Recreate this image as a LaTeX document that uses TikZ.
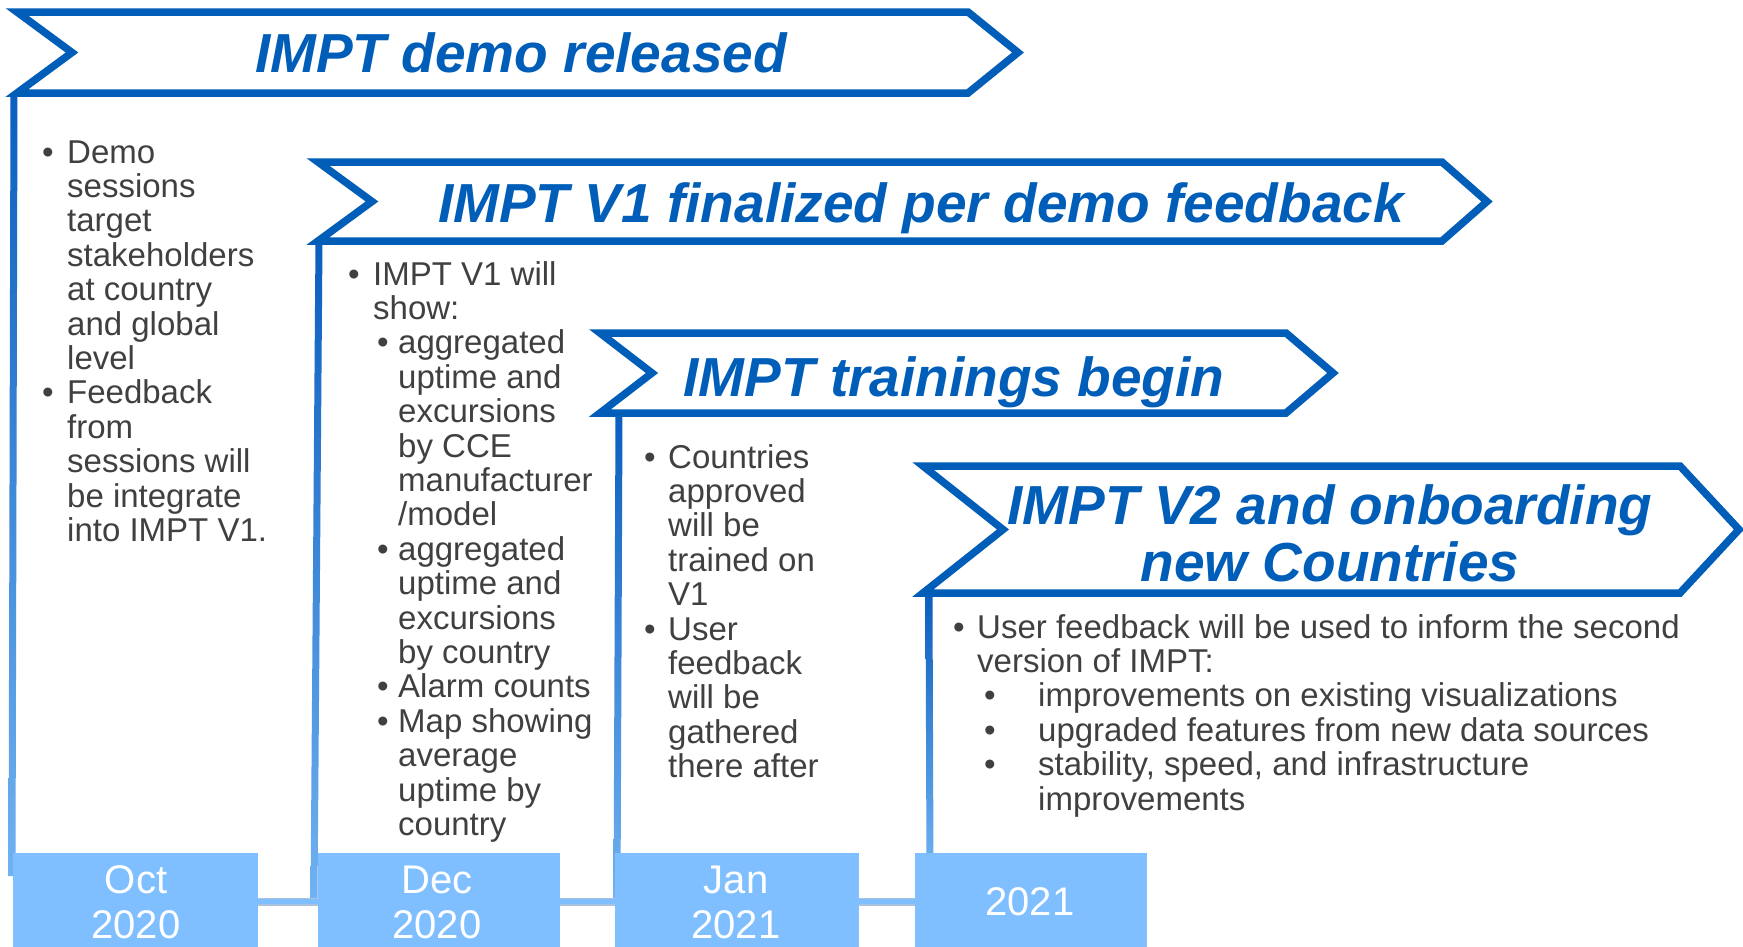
\documentclass[tikz,border=0pt]{standalone}
\usepackage{fontspec}
\setmainfont{Liberation Sans}
\usetikzlibrary{calc}

\definecolor{navy}{HTML}{005EB8}
\definecolor{skyfill}{HTML}{80BFFF}
\definecolor{linetop}{HTML}{0A5EBE}
\definecolor{linebot}{HTML}{70B2F2}
\definecolor{bodygray}{HTML}{404040}
\definecolor{connedge}{HTML}{A9C3DE}

% bullet helpers for the hand-broken lists
\newcommand{\itembul}[1][25pt]{\makebox[#1][l]{•}}
\newcommand{\itemgap}[1][25pt]{\hspace*{#1}}

% multi-line nodes are placed by the baseline of their last line
\tikzset{
  chev/.style={draw=navy, line width=7.5pt, fill=white, line join=miter},
  headline/.style={text=navy, inner sep=0pt, anchor=base,
    font=\fontsize{55}{57}\selectfont\bfseries\itshape},
  body/.style={text=bodygray, inner sep=0pt, anchor=base west, align=left,
    font=\fontsize{33}{34.4}\selectfont},
  datebox/.style={fill=skyfill, draw=none, inner sep=0pt, minimum height=97pt},
  datelabel/.style={text=white, inner sep=0pt, anchor=base, align=center,
    font=\fontsize{40}{44.5}\selectfont},
}

\begin{document}
\begin{tikzpicture}[x=1pt, y=-1pt]
\useasboundingbox (0,0) rectangle (1743,946);
\fill[white] (0,0) rectangle (1743,946);

% anchor points of the drop lines
\coordinate (v1t) at (14,93);   \coordinate (v1b) at (12,876);
\coordinate (v2t) at (319,241); \coordinate (v2b) at (314,898);
\coordinate (v3t) at (619,413); \coordinate (v3b) at (617,898);
\coordinate (v4t) at (929,593); \coordinate (v4b) at (930,872);

% drop lines, dark at the top and fading to light blue
\foreach \n in {1,2,3,4}{
  \shade[top color=linetop, bottom color=linebot]
    ($(v\n t)+(-3.5,0)$) -- ($(v\n t)+(3.5,0)$) -- ($(v\n b)+(3.5,0)$) -- ($(v\n b)+(-3.5,0)$) -- cycle;
}

% timeline boxes
\node[datebox, minimum width=245pt] (box1) at (135.5,901.5) {};
\node[datebox, minimum width=242pt] (box2) at (439,901.5) {};
\node[datebox, minimum width=244pt] (box3) at (737,901.5) {};
\node[datebox, minimum width=232pt] (box4) at (1031,901.5) {};

% connector between the boxes
\draw[connedge, line width=8pt] (box1.east) -- (box2.west);
\draw[connedge, line width=8pt] (box2.east) -- (box3.west);
\draw[connedge, line width=8pt] (box3.east) -- (box4.west);
\draw[skyfill, line width=5pt] ($(box1.east)+(-1,0)$) -- ($(box2.west)+(1,0)$);
\draw[skyfill, line width=5pt] ($(box2.east)+(-1,0)$) -- ($(box3.west)+(1,0)$);
\draw[skyfill, line width=5pt] ($(box3.east)+(-1,0)$) -- ($(box4.west)+(1,0)$);

\node[datelabel] (d1) at (136,938) {Oct\\2020};
\node[datelabel] (d2) at (437,938) {Dec\\2020};
\node[datelabel] (d3) at (736,938) {Jan\\2021};
\node[datelabel] (d4) at (1030,915) {2021};

% milestone chevrons
\draw[chev] (17,12) -- (968,12) -- (1018,52.5) -- (968,93) -- (17,93) -- (72,52.5) -- cycle;
\draw[chev] (318,162) -- (1442,162) -- (1487,201.5) -- (1442,241) -- (318,241) -- (372,201.5) -- cycle;
\draw[chev] (600,333) -- (1286,333) -- (1333,373) -- (1286,413) -- (600,413) -- (652,373) -- cycle;
\draw[chev] (923,466) -- (1680,466) -- (1739,529.5) -- (1680,593) -- (923,593) -- (1003,529.5) -- cycle;

\node[headline] (h1) at (521,72) {IMPT demo released};
\node[headline] (h2) at (921,222) {IMPT V1 finalized per demo feedback};
\node[headline] (h3) at (954,396) {IMPT trainings begin};
\node[headline, align=center] (h4) at (1330,581) {IMPT V2 and onboarding\\new Countries};

% milestone details
\node[body] (b1) at (42,541.4) {%
\itembul Demo\\
\itemgap sessions\\
\itemgap target\\
\itemgap stakeholders\\
\itemgap at country\\
\itemgap and global\\
\itemgap level\\
\itembul Feedback\\
\itemgap from\\
\itemgap sessions will\\
\itemgap be integrate\\
\itemgap into IMPT V1.};

\node[body] (b2) at (348,835.4) {%
\itembul IMPT V1 will\\
\itemgap show:\\
\itemgap[29pt]\itembul[21pt]aggregated\\
\itemgap[50pt]uptime and\\
\itemgap[50pt]excursions\\
\itemgap[50pt]by CCE\\
\itemgap[50pt]manufacturer\\
\itemgap[50pt]/model\\
\itemgap[29pt]\itembul[21pt]aggregated\\
\itemgap[50pt]uptime and\\
\itemgap[50pt]excursions\\
\itemgap[50pt]by country\\
\itemgap[29pt]\itembul[21pt]Alarm counts\\
\itemgap[29pt]\itembul[21pt]Map showing\\
\itemgap[50pt]average\\
\itemgap[50pt]uptime by\\
\itemgap[50pt]country};

\node[body] (b3) at (644,777.6) {%
\itembul[24pt]Countries\\
\itemgap[24pt]approved\\
\itemgap[24pt]will be\\
\itemgap[24pt]trained on\\
\itemgap[24pt]V1\\
\itembul[24pt]User\\
\itemgap[24pt]feedback\\
\itemgap[24pt]will be\\
\itemgap[24pt]gathered\\
\itemgap[24pt]there after};

\node[body] (b4) at (953,810) {%
\itembul[24pt]User feedback will be used to inform the second\\
\itemgap[24pt]version of IMPT:\\
\itemgap[31pt]\itembul[54pt]improvements on existing visualizations\\
\itemgap[31pt]\itembul[54pt]upgraded features from new data sources\\
\itemgap[31pt]\itembul[54pt]stability, speed, and infrastructure\\
\itemgap[85pt]improvements};
\end{tikzpicture}
\end{document}
